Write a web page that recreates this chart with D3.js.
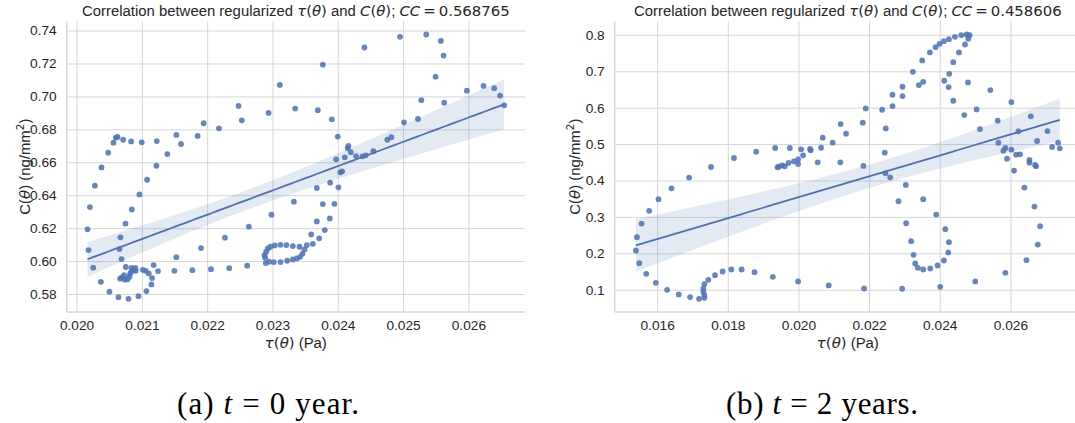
<!DOCTYPE html>
<html>
<head>
<meta charset="utf-8">
<script src="https://cdn.jsdelivr.net/npm/d3@7"></script>
<style>
  body { margin: 0; background: #ffffff; }
  svg { display: block; }
</style>
</head>
<body>
<svg id="fig" width="1075" height="423"></svg>
<script>
// ---- panel (a): t = 0 year ----
const tauA = [
  0.023113, 0.02248, 0.02253, 0.02294, 0.021946, 0.02218, 0.021854, 0.021528, 0.02160, 0.02139,
  0.021228, 0.020998, 0.020835, 0.020713, 0.020627, 0.020601, 0.020565, 0.020484, 0.020382, 0.02028,
  0.020204, 0.020168, 0.020183, 0.020255, 0.020372, 0.020504, 0.020642, 0.020795, 0.020948, 0.02107,
  0.021146, 0.021156, 0.021105, 0.02106, 0.021014, 0.02118, 0.021248, 0.020963, 0.02108, 0.021223,
  0.020846, 0.020749, 0.020672, 0.020657, 0.020688, 0.020754,
  0.020841, 0.020902, 0.020871, 0.020907, 0.020841, 0.02082, 0.02081, 0.020779, 0.020728, 0.020739,
  0.020667, 0.020693,
  0.021498, 0.021773, 0.022058, 0.022338, 0.022613, 0.021528, 0.021905, 0.022272, 0.022639, 0.022985,
  0.022878, 0.022904, 0.022929, 0.02297, 0.023036, 0.023123, 0.023214, 0.022888, 0.022898, 0.022949,
  0.02302, 0.023123, 0.023225,
  0.023312, 0.023414, 0.023312, 0.023373, 0.023424, 0.02346, 0.023491, 0.023526, 0.023618, 0.023715,
  0.023592, 0.023801, 0.023878, 0.023679, 0.023771, 0.023949, 0.023328, 0.023679, 0.023883, 0.02401,
  0.024041, 0.024066, 0.023975, 0.024107, 0.024199, 0.024153, 0.024163, 0.02428, 0.024377, 0.024428,
  0.024545, 0.024759, 0.02482, 0.024, 0.023908, 0.023694, 0.023348, 0.023771, 0.024408, 0.024953,
  0.025355, 0.025579, 0.02562, 0.025498, 0.025279, 0.025228, 0.025014, 0.02563, 0.025977, 0.026232,
  0.026395, 0.026486, 0.026548
];
const cA = [
  0.7070, 0.6942, 0.6855, 0.6900, 0.6837, 0.6806, 0.6760, 0.6766, 0.6711, 0.6650,
  0.6729, 0.6721, 0.6727, 0.6737, 0.6754, 0.6750, 0.6719, 0.6658, 0.6569, 0.6458,
  0.6328, 0.6193, 0.6067, 0.5960, 0.5874, 0.5814, 0.5781, 0.5771, 0.5787, 0.5818,
  0.5858, 0.5897, 0.5925, 0.5941, 0.5947, 0.5976, 0.5939, 0.6405, 0.6494, 0.6579,
  0.6314, 0.6227, 0.6144, 0.6073, 0.6012, 0.5964,
  0.5959, 0.5959, 0.5943, 0.5941, 0.5939, 0.5923, 0.5905, 0.5889, 0.5915, 0.5887,
  0.5893, 0.5901,
  0.5941, 0.5945, 0.5951, 0.5957, 0.5972, 0.6024, 0.6079, 0.6142, 0.6209, 0.6282,
  0.6036, 0.6057, 0.6077, 0.6087, 0.6095, 0.6099, 0.6097, 0.6020, 0.5988, 0.5996,
  0.5994, 0.5994, 0.6002,
  0.6091, 0.6087, 0.6010, 0.6016, 0.6026, 0.6045, 0.6071, 0.6097, 0.6105, 0.6138,
  0.6162, 0.6188, 0.6259, 0.6241, 0.6346, 0.6348, 0.6361, 0.6444, 0.6476, 0.6448,
  0.6539, 0.6545, 0.6618, 0.6630, 0.6661, 0.6685, 0.6699, 0.6638, 0.6636, 0.6642,
  0.6667, 0.6737, 0.6752, 0.6756, 0.6861, 0.6916, 0.6926, 0.7193, 0.7297, 0.7362,
  0.7376, 0.7337, 0.7248, 0.7120, 0.6977, 0.6863, 0.6843, 0.6962, 0.7035, 0.7064,
  0.7050, 0.7005, 0.6946
];
const xTicksA = [0.020, 0.021, 0.022, 0.023, 0.024, 0.025, 0.026];
const yTicksA = [0.58, 0.60, 0.62, 0.64, 0.66, 0.68, 0.70, 0.72, 0.74];
const ccA = "0.568765";

// ---- panel (b): t = 2 years ----
const tauB = [
  0.021195, 0.020687, 0.020969, 0.02064, 0.020329, 0.020348, 0.020075, 0.019755, 0.019341, 0.018805,
  0.018174, 0.017525, 0.016904, 0.016405, 0.016038, 0.015774, 0.015558, 0.015426, 0.015398, 0.015492,
  0.01569, 0.015962, 0.016282, 0.016612, 0.016932, 0.017186, 0.017336, 0.017336, 0.017308, 0.017308,
  0.017336, 0.017449, 0.017638, 0.017854, 0.018099, 0.018391, 0.018758, 0.019275, 0.01999, 0.020856,
  0.019407, 0.019445, 0.019539, 0.019614, 0.019718, 0.019868, 0.01999, 0.01999, 0.020132, 0.020546,
  0.021186,
  0.021348, 0.02182, 0.021905, 0.021839, 0.022369, 0.022473, 0.022662, 0.022662, 0.022946, 0.022946,
  0.023239, 0.023409, 0.023532, 0.023504, 0.023721, 0.023882, 0.023995, 0.024118, 0.02426, 0.02443,
  0.02461, 0.024761, 0.024846, 0.024808, 0.024714, 0.024544, 0.024383, 0.024269, 0.024128, 0.024251,
  0.024383, 0.024695, 0.024799, 0.025045, 0.025139, 0.025433, 0.025641, 0.025659, 0.025801, 0.025858,
  0.025905, 0.026028, 0.026028, 0.026104, 0.026161, 0.026274, 0.026227, 0.026577, 0.026539, 0.026539,
  0.0267, 0.026728, 0.026757, 0.02705, 0.027182, 0.027352, 0.027399,
  0.026397, 0.026681, 0.026842, 0.026775, 0.026454, 0.025858, 0.025007, 0.024014, 0.022936, 0.021858,
  0.022463, 0.022596, 0.02304, 0.022832, 0.023532, 0.02305, 0.023901, 0.023191, 0.024156, 0.02426,
  0.023258, 0.024241, 0.023305, 0.023381, 0.023532, 0.023731, 0.023939, 0.024118, 0.022444
];
const cB = [
  0.5550, 0.5176, 0.5038, 0.4901, 0.4865, 0.4828, 0.4856, 0.4892, 0.4892, 0.4792,
  0.4618, 0.4371, 0.4079, 0.3786, 0.3484, 0.3166, 0.2817, 0.2442, 0.2077, 0.1730,
  0.1437, 0.1190, 0.0998, 0.0870, 0.0797, 0.0751, 0.0779, 0.0852, 0.0943, 0.1035,
  0.1154, 0.1272, 0.1400, 0.1500, 0.1556, 0.1556, 0.1483, 0.1355, 0.1227, 0.1117,
  0.4362, 0.4380, 0.4417, 0.4389, 0.4481, 0.4527, 0.4581, 0.4453, 0.4691, 0.4499,
  0.4499,
  0.5285, 0.5587, 0.5980, 0.4399, 0.5943, 0.5431, 0.6044, 0.6355, 0.6574, 0.6318,
  0.6985, 0.6620, 0.6711, 0.7296, 0.7516, 0.7662, 0.7753, 0.7826, 0.7881, 0.7945,
  0.7991, 0.8009, 0.7991, 0.7890, 0.7735, 0.7516, 0.7250, 0.6930, 0.6739, 0.6565,
  0.6190, 0.5797, 0.6693, 0.5953, 0.5413, 0.6483, 0.5642, 0.5038, 0.4819, 0.4892,
  0.4600, 0.6154, 0.4846, 0.4271, 0.4709, 0.4718, 0.5349, 0.5761, 0.4563, 0.4490,
  0.4426, 0.4389, 0.5084, 0.5358, 0.4919, 0.5038, 0.4883,
  0.3804, 0.3283, 0.2744, 0.2241, 0.1812, 0.1464, 0.1227, 0.1080, 0.1026, 0.1035,
  0.4197, 0.4088, 0.3878, 0.3430, 0.3485, 0.2826, 0.3064, 0.2333, 0.2662, 0.2305,
  0.1958, 0.2022, 0.1720, 0.1601, 0.1556, 0.1583, 0.1665, 0.1802, 0.4764
];
const xTicksB = [0.016, 0.018, 0.020, 0.022, 0.024, 0.026];
const yTicksB = [0.1, 0.2, 0.3, 0.4, 0.5, 0.6, 0.7, 0.8];
const ccB = "0.458606";

// ---- styling ----
const BLUE = "#4c72b0";
const GRID = "#d6d6d6";
const TEXT = "#262626";
const SANS = "'Liberation Sans', Arial, sans-serif";
const MATH = "'DejaVu Sans', sans-serif";
const SERIF = "'Liberation Serif', 'Times New Roman', serif";
const TICK_FS = 13.7;
const LABEL_FS = 14.9;

const svg = d3.select("#fig");

// writes a run of styled pieces into a text element
function runs(textSel, fs, parts) {
  parts.forEach(([str, kind]) => {
    const t = textSel.append("tspan").text(str);
    if (kind === "mi") t.attr("font-family", MATH).attr("font-style", "italic");
    else if (kind === "mr") t.attr("font-family", MATH);
    else if (kind === "sup") t.attr("font-family", MATH).attr("font-size", fs * 0.7).attr("dy", -fs * 0.42);
    else if (kind === "unsup") t.attr("dy", fs * 0.42);
  });
  return textSel;
}

// ordinary least squares with a 95% band for the fitted mean
function regression(xs, ys) {
  const n = xs.length;
  const mx = d3.mean(xs), my = d3.mean(ys);
  let sxx = 0, sxy = 0;
  for (let i = 0; i < n; i++) { sxx += (xs[i] - mx) ** 2; sxy += (xs[i] - mx) * (ys[i] - my); }
  const b = sxy / sxx, a = my - b * mx;
  let sse = 0;
  for (let i = 0; i < n; i++) sse += (ys[i] - a - b * xs[i]) ** 2;
  const s2 = sse / (n - 2);
  const [x0, x1] = d3.extent(xs);
  const grid = d3.range(101).map(i => x0 + (x1 - x0) * i / 100);
  const tcrit = 1.98;
  return grid.map(x => {
    const yh = a + b * x;
    const se = Math.sqrt(s2 * (1 / n + (x - mx) ** 2 / sxx));
    return { x, y: yh, lo: yh - tcrit * se, hi: yh + tcrit * se };
  });
}

function padded(vals) {
  const [lo, hi] = d3.extent(vals);
  const m = (hi - lo) * 0.05;
  return [lo - m, hi + m];
}

function panel(cfg) {
  const { tau, c, left, right, top, bottom, xTicks, yTicks, xFmt, yFmt, cc, ylabX, capX, capLen, capParts } = cfg;
  const x = d3.scaleLinear().domain(padded(tau)).range([left, right]);
  const y = d3.scaleLinear().domain(padded(c)).range([bottom, top]);
  const g = svg.append("g");
  const clipId = "clip" + Math.round(left);
  g.append("clipPath").attr("id", clipId)
    .append("rect").attr("x", left).attr("y", top).attr("width", right - left).attr("height", bottom - top);

  // grid
  const xa = g.append("g").attr("transform", `translate(0,${bottom})`)
    .call(d3.axisBottom(x).tickValues(xTicks).tickFormat(d3.format(xFmt))
      .tickSizeInner(-(bottom - top)).tickSizeOuter(0).tickPadding(8.3));
  const ya = g.append("g").attr("transform", `translate(${left},0)`)
    .call(d3.axisLeft(y).tickValues(yTicks).tickFormat(d3.format(yFmt))
      .tickSizeInner(-(right - left)).tickSizeOuter(0).tickPadding(10));
  [xa, ya].forEach(a => {
    a.select(".domain").remove();
    a.selectAll(".tick line").attr("stroke", GRID).attr("stroke-width", 1);
    a.selectAll(".tick text").attr("fill", TEXT).attr("font-family", SANS).attr("font-size", TICK_FS);
  });

  const plot = g.append("g").attr("clip-path", `url(#${clipId})`);

  // confidence band and fitted line
  const fit = regression(tau, c);
  plot.append("path").datum(fit)
    .attr("d", d3.area().x(d => x(d.x)).y0(d => y(d.lo)).y1(d => y(d.hi)))
    .attr("fill", BLUE).attr("fill-opacity", 0.15);

  // scatter
  plot.append("g").selectAll("circle").data(d3.zip(tau, c)).join("circle")
    .attr("cx", d => x(d[0])).attr("cy", d => y(d[1])).attr("r", 2.9)
    .attr("fill", BLUE).attr("fill-opacity", 0.85);

  plot.append("path").datum(fit)
    .attr("d", d3.line().x(d => x(d.x)).y(d => y(d.y)))
    .attr("fill", "none").attr("stroke", BLUE).attr("stroke-width", 1.8);

  // spines (left and bottom only)
  g.append("line").attr("x1", left).attr("x2", left).attr("y1", top).attr("y2", bottom)
    .attr("stroke", GRID).attr("stroke-width", 1.4);
  g.append("line").attr("x1", left).attr("x2", right).attr("y1", bottom).attr("y2", bottom)
    .attr("stroke", GRID).attr("stroke-width", 1.4);

  const cx = (left + right) / 2, cy = (top + bottom) / 2;

  // title
  runs(g.append("text").attr("x", cx).attr("y", 16).attr("text-anchor", "middle")
    .attr("font-family", SANS).attr("font-size", LABEL_FS).attr("fill", TEXT), LABEL_FS, [
      ["Correlation between regularized ", "n"], ["\u03c4", "mi"], ["(", "mr"], ["\u03b8", "mi"], [")", "mr"],
      [" and ", "n"], ["C", "mi"], ["(", "mr"], ["\u03b8", "mi"], [")", "mr"], ["; ", "n"],
      ["CC", "mi"], ["\u2009=\u2009" + cc, "mr"]
    ]);

  // x label
  runs(g.append("text").attr("x", cx).attr("y", 348).attr("text-anchor", "middle")
    .attr("font-family", SANS).attr("font-size", LABEL_FS).attr("fill", TEXT), LABEL_FS, [
      ["\u03c4", "mi"], ["(", "mr"], ["\u03b8", "mi"], [")", "mr"], [" (Pa)", "n"]
    ]);

  // y label
  runs(g.append("text").attr("transform", `translate(${ylabX},${cy}) rotate(-90)`)
    .attr("text-anchor", "middle").attr("font-family", SANS).attr("font-size", LABEL_FS).attr("fill", TEXT), LABEL_FS, [
      ["C(", "n"], ["\u03b8", "mi"], [") (ng/mm", "n"], ["2", "sup"], [")", "unsup"]
    ]);

  // sub-caption
  const cap = svg.append("text").attr("x", capX).attr("y", 414).attr("text-anchor", "middle")
    .attr("font-family", SERIF).attr("font-size", 31).attr("fill", "#000")
    .attr("textLength", capLen).attr("lengthAdjust", "spacing");
  capParts.forEach(([str, it]) => {
    const t = cap.append("tspan").text(str);
    if (it) t.attr("font-style", "italic");
  });
}

panel({
  tau: tauA, c: cA, left: 66.7, right: 525, top: 21.3, bottom: 312,
  xTicks: xTicksA, yTicks: yTicksA, xFmt: ".3f", yFmt: ".2f", cc: ccA,
  ylabX: 30, capX: 268, capLen: 182,
  capParts: [["(a) ", false], ["t", true], [" = 0 year.", false]]
});
panel({
  tau: tauB, c: cB, left: 614.7, right: 1081, top: 21.3, bottom: 312,
  xTicks: xTicksB, yTicks: yTicksB, xFmt: ".3f", yFmt: ".1f", cc: ccB,
  ylabX: 580, capX: 822, capLen: 192,
  capParts: [["(b) ", false], ["t", true], [" = 2 years.", false]]
});
</script>
</body>
</html>
